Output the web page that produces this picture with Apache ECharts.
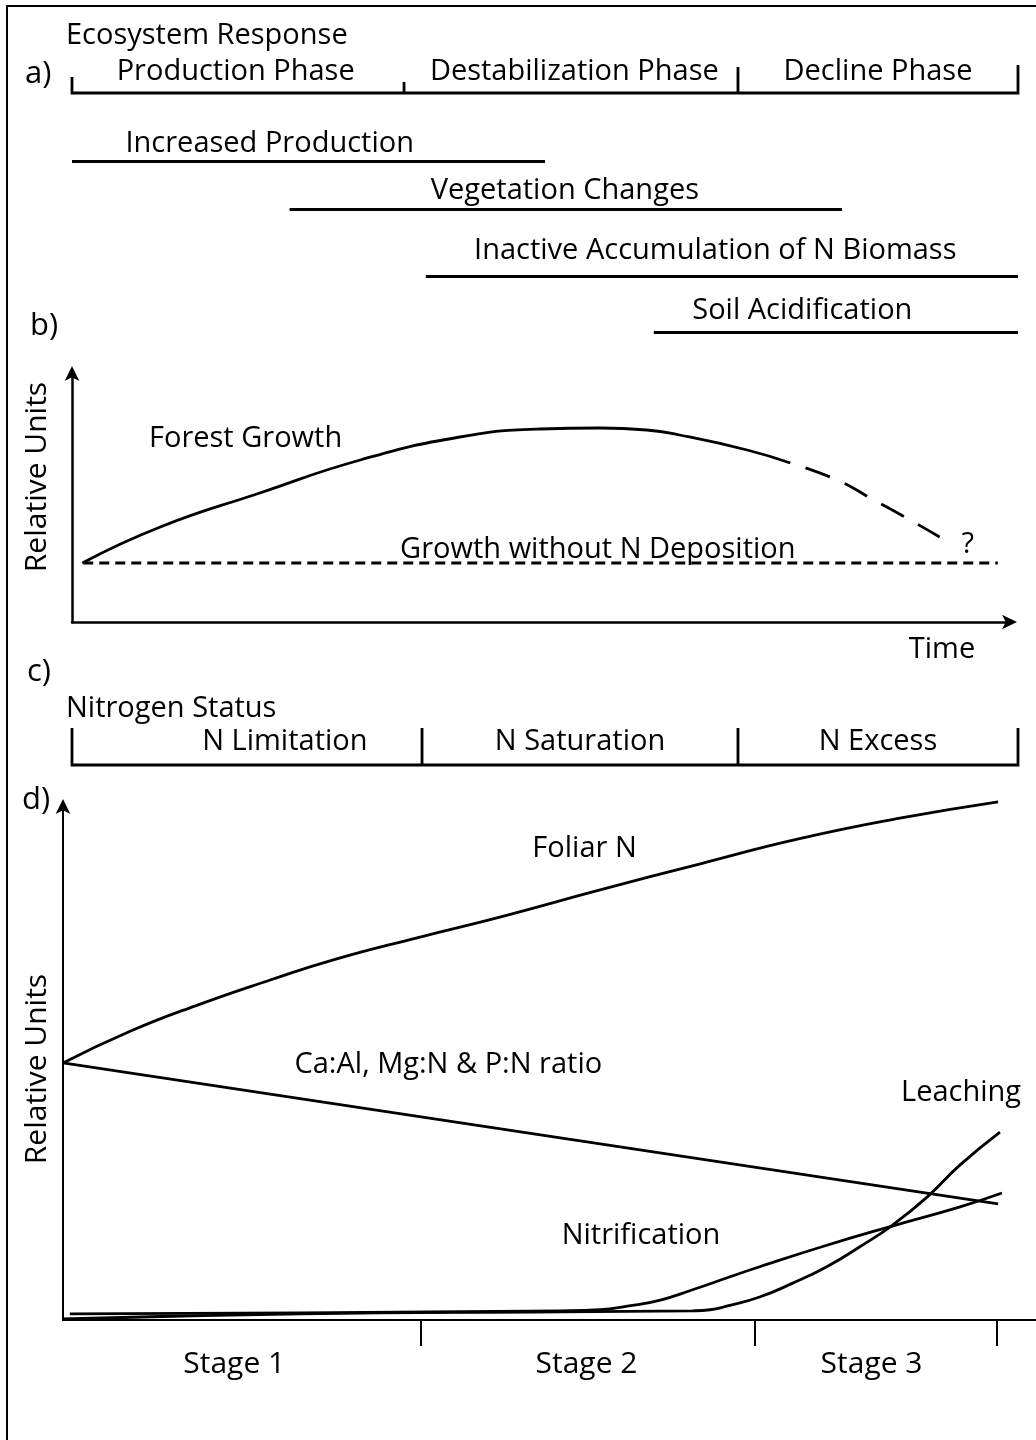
<!DOCTYPE html>
<html>
<head>
<meta charset="utf-8">
<script src="https://cdn.jsdelivr.net/npm/echarts@6/dist/echarts.min.js"></script>
<style>
  html, body { margin: 0; padding: 0; background: #fff; }
  #chart { width: 1036px; height: 1440px; }
</style>
</head>
<body>
<div id="chart"></div>
<script>
// a) ecosystem response, x = time 0..100, row = position down the panel
const phaseNames = ['Production Phase', 'Destabilization Phase', 'Decline Phase']
const phaseLabelX = [17.3, 53.1, 85.2]
const phaseTickX = [0, 35.1, 70.4, 100]
const phaseTickTop = [3.7, 4.2, 2.7, 2.5]
const phaseBaseRow = 5.3
const phaseLabelRow = 3.2

const responseNames = ['Increased Production', 'Vegetation Changes', 'Inactive Accumulation of N Biomass', 'Soil Acidification']
const responseStart = [0, 23.0, 37.4, 61.5]
const responseEnd = [50.0, 81.4, 100, 100]
const responseRow = [12.1, 16.9, 23.6, 29.2]
const responseLabelX = [20.9, 52.1, 68.0, 77.2]
const responseLabelRow = [10.4, 15.1, 21.1, 27.1]

// b) forest growth
const growthX = [1.1, 9.4, 20.0, 30.7, 41.3, 49.8, 56.2, 61.2, 64.7, 71.9, 76.5]
const growthY = [23.6, 38.0, 51.6, 64.8, 74.0, 77.2, 77.6, 76.8, 74.8, 68.8, 63.6]
const declineX = [76.5, 81.5, 85.2, 88.7, 92.4]
const declineY = [63.6, 56.8, 49.2, 42.0, 34.0]
const noDepX = [1.2, 98.6]
const noDepY = [23.6, 23.6]
const growthLabels = ['Forest Growth', 'Growth without N Deposition', '?']
const growthLabelX = [8.2, 56.0, 95.4]
const growthLabelY = [73.2, 28.8, 30.8]

// c) nitrogen status
const statusNames = ['N Limitation', 'N Saturation', 'N Excess']
const statusLabelX = [22.5, 53.7, 85.2]
const statusTickX = [0, 37.0, 70.4, 100]
const statusTickTop = 2.8
const statusBaseRow = 6.5
const statusLabelRow = 4.2

// d) nitrogen cycling by stage
const stageNames = ['Stage 1', 'Stage 2', 'Stage 3']
const stageCenters = [17.6, 53.8, 83.1]
const stageBounds = [36.8, 71.1, 96.0]
const foliarX = [0, 6.9, 14.1, 21.3, 27.7, 36.7, 44.9, 55.2, 65.5, 75.7, 86.0, 96.1]
const foliarY = [50.2, 56.4, 61.7, 66.4, 70.3, 74.8, 78.7, 84.0, 89.1, 94.0, 98.0, 101.2]
const ratioX = [0, 96.1]
const ratioY = [50.2, 22.7]
const nitrifX = [0.7, 24.4, 51.1, 55.2, 58.0, 61.4, 64.7, 68.2, 71.6, 78.5, 85.3, 92.2, 96.5]
const nitrifY = [1.2, 1.4, 1.8, 2.0, 2.7, 3.9, 5.9, 8.2, 10.4, 14.6, 18.4, 22.1, 24.8]
const leachX = [0, 24.4, 51.1, 64.7, 66.5, 68.2, 71.6, 75.0, 78.5, 81.9, 85.3, 88.8, 92.2, 96.3]
const leachY = [0.2, 1.2, 1.6, 1.8, 2.0, 2.7, 4.5, 7.2, 10.4, 14.3, 18.6, 24.0, 30.3, 36.7]
const cyclingLabels = ['Foliar N', 'Ca:Al, Mg:N & P:N ratio', 'Nitrification', 'Leaching']
const cyclingLabelX = [53.6, 39.6, 59.4, 92.3]
const cyclingLabelY = [92.0, 49.8, 16.4, 44.3]

const FONT = "'Open Sans', 'Noto Sans', sans-serif"
const FS = 29
const INK = '#000'
const LW = 2.8

function zip (xs, ys) {
  return xs.map((x, i) => [x, ys[i]])
}

function textSeries (axis, xs, ys, names, align) {
  return {
    type: 'scatter',
    xAxisIndex: axis,
    yAxisIndex: axis,
    symbolSize: 0,
    clip: false,
    silent: true,
    itemStyle: { opacity: 1 },
    data: xs.map((x, i) => ({ name: names[i], value: [x, ys[i]] })),
    label: {
      show: true,
      position: 'inside',
      formatter: '{b}',
      color: INK,
      opacity: 1,
      fontFamily: FONT,
      fontSize: FS,
      align: align || 'center',
      verticalAlign: 'middle'
    }
  }
}

function curve (axis, xs, ys, opts) {
  return Object.assign({
    type: 'line',
    xAxisIndex: axis,
    yAxisIndex: axis,
    data: zip(xs, ys),
    showSymbol: false,
    clip: false,
    silent: true,
    smooth: 0.5,
    lineStyle: { color: INK, width: LW }
  }, opts || {})
}

function bracket (axis, tickX, tickTop, baseRow) {
  const tops = Array.isArray(tickTop) ? tickTop : tickX.map(() => tickTop)
  const last = tickX.length - 1
  const data = [{
    coords: [[tickX[0], tops[0]], [tickX[0], baseRow], [tickX[last], baseRow], [tickX[last], tops[last]]]
  }]
  for (let i = 1; i < last; i++) {
    data.push({ coords: [[tickX[i], tops[i]], [tickX[i], baseRow]] })
  }
  return {
    type: 'lines',
    coordinateSystem: 'cartesian2d',
    xAxisIndex: axis,
    yAxisIndex: axis,
    polyline: true,
    silent: true,
    lineStyle: { color: INK, width: LW, opacity: 1 },
    data: data
  }
}

function arrowLine (push, width) {
  return {
    show: true,
    symbol: ['none', 'arrow'],
    symbolSize: [11, 15],
    symbolOffset: [0, push],
    lineStyle: { color: INK, width: width }
  }
}

const hiddenAxis = { show: false }
const bareAxis = { axisTick: { show: false }, axisLabel: { show: false }, splitLine: { show: false } }

const chart = echarts.init(document.getElementById('chart'), null, { renderer: 'canvas' })
chart.setOption({
  backgroundColor: '#fff',
  animation: false,
  grid: [
    { left: 72, right: 18, top: 40, height: 300 },
    { left: 72, right: 25, top: 372, height: 250 },
    { left: 72, right: 18, top: 700, height: 80 },
    { left: 63, right: 0, top: 808, height: 512 }
  ],
  xAxis: [
    Object.assign({ gridIndex: 0, type: 'value', min: 0, max: 100 }, hiddenAxis),
    Object.assign({ gridIndex: 1, type: 'value', min: 0, max: 100, axisLine: arrowLine(6, 2.5) }, bareAxis),
    Object.assign({ gridIndex: 2, type: 'value', min: 0, max: 100 }, hiddenAxis),
    {
      gridIndex: 3, type: 'value', min: 0, max: 100,
      axisLine: { show: true, lineStyle: { color: INK, width: 2 } },
      axisTick: { show: true, customValues: stageBounds, length: 26, inside: false, lineStyle: { color: INK, width: 2 } },
      axisLabel: {
        show: true,
        customValues: stageCenters,
        margin: 29,
        color: INK,
        fontFamily: FONT,
        fontSize: 30,
        formatter: function (v) {
          let best = 0
          stageCenters.forEach((c, i) => { if (Math.abs(c - v) < Math.abs(stageCenters[best] - v)) best = i })
          return stageNames[best]
        }
      },
      splitLine: { show: false }
    }
  ],
  yAxis: [
    Object.assign({ gridIndex: 0, type: 'value', min: 0, max: 30, inverse: true }, hiddenAxis),
    Object.assign({ gridIndex: 1, type: 'value', min: 0, max: 100, axisLine: arrowLine(6, 2.5) }, bareAxis),
    Object.assign({ gridIndex: 2, type: 'value', min: 0, max: 8, inverse: true }, hiddenAxis),
    Object.assign({ gridIndex: 3, type: 'value', min: 0, max: 100, axisLine: arrowLine(9, 2) }, bareAxis)
  ],
  graphic: [
    { type: 'rect', shape: { x: 7, y: 6, width: 1100, height: 1500 }, style: { fill: 'none', stroke: INK, lineWidth: 2 }, silent: true },
    { type: 'text', x: 66, y: 36, style: { text: 'Ecosystem Response', font: FS + 'px ' + FONT, fill: INK, verticalAlign: 'middle' } },
    { type: 'text', x: 25, y: 74, style: { text: 'a)', font: '31px ' + FONT, fill: INK, verticalAlign: 'middle' } },
    { type: 'text', x: 30, y: 326, style: { text: 'b)', font: '31px ' + FONT, fill: INK, verticalAlign: 'middle' } },
    { type: 'text', x: 27, y: 672, style: { text: 'c)', font: '31px ' + FONT, fill: INK, verticalAlign: 'middle' } },
    { type: 'text', x: 22, y: 800, style: { text: 'd)', font: '31px ' + FONT, fill: INK, verticalAlign: 'middle' } },
    { type: 'text', x: 66, y: 709, style: { text: 'Nitrogen Status', font: FS + 'px ' + FONT, fill: INK, verticalAlign: 'middle' } },
    { type: 'text', x: 942, y: 650, style: { text: 'Time', font: FS + 'px ' + FONT, fill: INK, align: 'center', verticalAlign: 'middle' } },
    { type: 'text', x: 37, y: 477, rotation: Math.PI / 2, style: { text: 'Relative Units', font: '30px ' + FONT, fill: INK, align: 'center', verticalAlign: 'middle' } },
    { type: 'text', x: 37, y: 1069, rotation: Math.PI / 2, style: { text: 'Relative Units', font: '30px ' + FONT, fill: INK, align: 'center', verticalAlign: 'middle' } }
  ],
  series: [
    // a)
    bracket(0, phaseTickX, phaseTickTop, phaseBaseRow),
    textSeries(0, phaseLabelX, phaseLabelX.map(() => phaseLabelRow), phaseNames),
    {
      type: 'lines',
      coordinateSystem: 'cartesian2d',
      xAxisIndex: 0,
      yAxisIndex: 0,
      silent: true,
      lineStyle: { color: INK, width: LW, opacity: 1 },
      data: responseNames.map((n, i) => ({ coords: [[responseStart[i], responseRow[i]], [responseEnd[i], responseRow[i]]] }))
    },
    textSeries(0, responseLabelX, responseLabelRow, responseNames),
    // b)
    curve(1, noDepX, noDepY, { smooth: false, lineStyle: { color: INK, width: LW, type: [10, 6] } }),
    curve(1, growthX, growthY),
    curve(1, declineX, declineY, { lineStyle: { color: INK, width: LW, type: [26, 16], dashOffset: 26 } }),
    textSeries(1, growthLabelX.slice(0, 1), growthLabelY.slice(0, 1), growthLabels.slice(0, 1), 'left'),
    textSeries(1, growthLabelX.slice(1), growthLabelY.slice(1), growthLabels.slice(1)),
    // c)
    bracket(2, statusTickX, statusTickTop, statusBaseRow),
    textSeries(2, statusLabelX, statusLabelX.map(() => statusLabelRow), statusNames),
    // d)
    curve(3, foliarX, foliarY),
    curve(3, ratioX, ratioY, { smooth: false }),
    curve(3, nitrifX, nitrifY),
    curve(3, leachX, leachY),
    textSeries(3, cyclingLabelX, cyclingLabelY, cyclingLabels)
  ]
})
</script>
</body>
</html>
